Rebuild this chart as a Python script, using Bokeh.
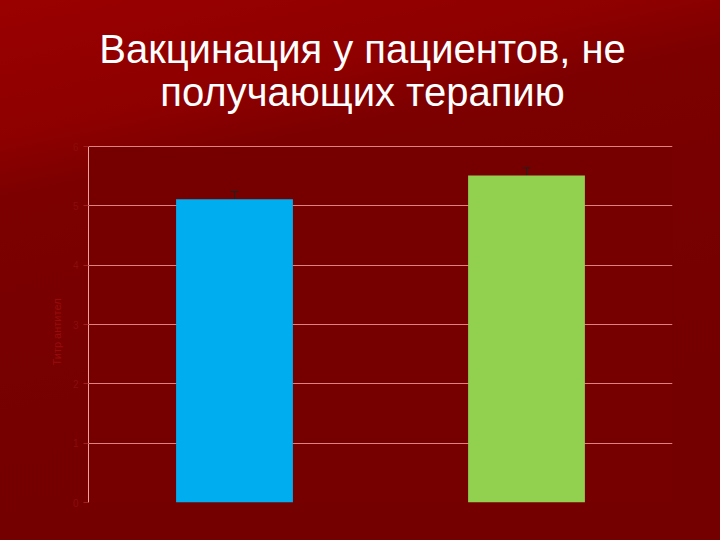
from bokeh.plotting import figure
from bokeh.models import Whisker, ColumnDataSource, FixedTicker, GlobalInlineStyleSheet, Title
from bokeh.core.properties import value
from bokeh.embed import file_html
from bokeh.resources import INLINE

categories = ["Группа 1", "Группа 2"]
values = [5.11, 5.51]
errors = [0.13, 0.13]
colors = ["#00aeef", "#92d050"]
y_ticks = [0, 1, 2, 3, 4, 5, 6]
y_max = 6
title_lines = ["Вакцинация у пациентов, не", "получающих терапию"]
y_label = "Титр антител"

src = ColumnDataSource(dict(
    cat=categories, val=values, color=colors,
    lower=[v - e for v, e in zip(values, errors)],
    upper=[v + e for v, e in zip(values, errors)],
))

# frame spans the title area too; the value axis is bounded to 0..6
px_per_unit = 356 / y_max
top_val = 502 / px_per_unit
p = figure(x_range=categories, y_range=(0, top_val), width=720, height=540,
           frame_width=584, frame_height=502,
           min_border_left=88, min_border_right=48, min_border_top=0, min_border_bottom=38,
           output_backend="svg", toolbar_location=None, title=None)
p.stylesheets = [GlobalInlineStyleSheet(css=(
    "html,body{margin:0;padding:0;overflow:hidden;"
    "background:linear-gradient(168deg,#9a0000 0%,#8e0000 20%,#7c0000 29%,#760000 60%,#740000 100%);}"
))]

p.background_fill_alpha = 0.0
p.border_fill_alpha = 0.0
p.outline_line_color = None

# plot-area fill
bgq = p.quad(left=[0], right=[len(categories)], bottom=[0], top=[y_max],
             fill_color="#760000", line_color=None)
bgq.level = "image"

p.vbar(x="cat", top="val", width=0.4, color="color", source=src, line_color=None)
w = Whisker(base="cat", lower="lower", upper="upper", source=src, line_color="#202020", line_width=1)
w.upper_head.line_color = "#202020"
w.lower_head.line_color = "#202020"
w.upper_head.size = 8
w.lower_head.size = 8
p.add_layout(w)

p.xaxis.visible = False
p.xgrid.visible = False
p.ygrid.grid_line_color = "#e08080"
p.ygrid.grid_line_width = 1
p.yaxis.ticker = FixedTicker(ticks=y_ticks)
p.yaxis.bounds = (0, y_max)
p.yaxis.axis_line_color = "#f0a0a0"
p.yaxis.major_tick_line_color = "#a02020"
p.yaxis.major_tick_out = 5
p.yaxis.major_tick_in = 0
p.yaxis.minor_tick_line_color = None
p.yaxis.major_label_text_color = "#8c0c0c"
p.yaxis.major_label_text_font_size = "10px"

# value-axis label, placed along the bounded part of the axis
p.add_layout(Title(text=y_label, align="left", offset=137, text_color="#9a0c0c",
                   text_font_size="11px", text_font_style="normal", standoff=14), "left")

# title, two lines, in the space above the value axis
title_x = (362 - 88) / 292
title_y = [(502 - 48) / px_per_unit, (502 - 91) / px_per_unit]
p.text(x=[title_x, title_x], y=title_y, text=title_lines,
       text_align="center", text_baseline="alphabetic",
       text_font=value("Liberation Sans"), text_font_size="40px", text_color="white")

open("out.html", "w").write(file_html(p, INLINE))
